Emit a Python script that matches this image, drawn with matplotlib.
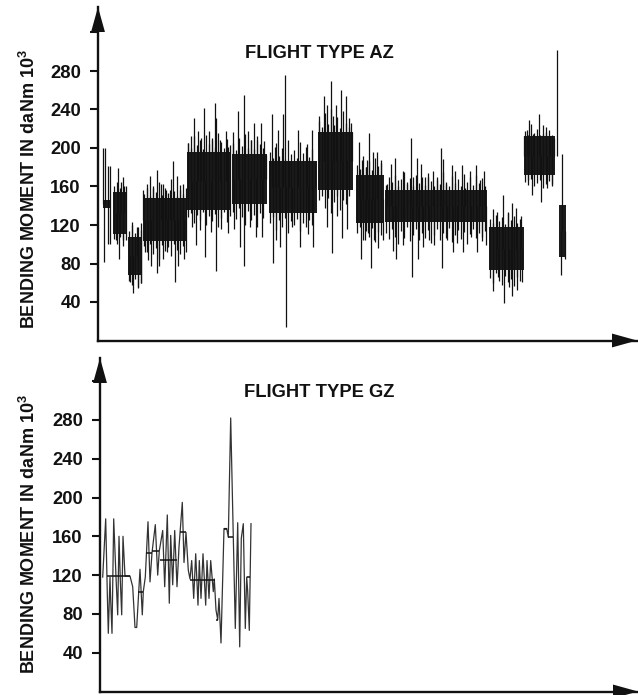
import numpy as np
import matplotlib
matplotlib.use('Agg')
import matplotlib.pyplot as plt

plt.rcParams['font.family'] = ['Liberation Sans', 'DejaVu Sans']
plt.rcParams['font.weight'] = 'bold'
plt.rcParams['mathtext.fontset'] = 'custom'
plt.rcParams['mathtext.bf'] = 'Liberation Sans:bold'

tick_vals = [40, 80, 120, 160, 200, 240, 280]
extra_tick = 320

# flight type AZ, blocks of steady load: start, end, low, high
az_start = [5, 15, 30, 45, 89, 134, 171, 220, 258, 287, 391, 426, 461]
az_end = [13, 29, 44, 89, 133, 169, 219, 255, 286, 389, 426, 457, 468]
az_low = [138, 111, 68, 103, 136, 142, 132, 156, 122, 123, 73, 172, 87]
az_high = [146, 154, 108, 148, 196, 194, 187, 217, 172, 156, 118, 212, 141]

# flight type AZ, peaks above the blocks
az_up_t = [5, 7, 10, 12, 20, 23, 26, 34, 39, 43, 45, 49, 52, 55, 59, 63, 65, 68, 72, 75, 79, 82, 85,
           90, 93, 96, 100, 103, 106, 111, 114, 117, 118, 122, 128, 130,
           135, 140, 146, 150, 153, 156, 159, 163, 166, 168,
           174, 177, 180, 185, 187, 191, 200, 209, 214, 217,
           221, 226, 229, 233, 235, 238, 243, 248, 251, 253, 254,
           261, 264, 268, 269, 271, 275, 279, 283,
           289, 293, 297, 300, 305, 309, 313, 315, 319, 323, 327, 330, 335, 339, 343, 345, 348,
           354, 357, 364, 367, 372, 378, 382, 386,
           395, 399, 405, 410, 414, 418, 423, 426,
           429, 431, 435, 441, 445, 448, 452, 456, 459, 464]
az_up_val = [200, 200, 181, 181, 179, 165, 160, 123, 118, 122, 156, 163, 171, 158, 177, 163, 163, 156, 156, 186, 171, 156, 163,
             205, 212, 231, 218, 210, 242, 218, 208, 247, 231, 208, 218, 201,
             217, 238, 255, 218, 208, 226, 208, 226, 207, 193,
             235, 201, 219, 235, 276, 187, 219, 204, 219, 187,
             233, 254, 245, 270, 233, 245, 260, 254, 231, 226, 217,
             206, 188, 180, 188, 216, 196, 196, 188,
             163, 183, 190, 167, 176, 165, 210, 170, 190, 183, 170, 170, 176, 167, 200, 189, 163,
             182, 176, 182, 158, 176, 182, 167, 176,
             137, 133, 151, 134, 143, 138, 129, 212,
             219, 229, 215, 235, 215, 222, 212, 210, 302, 194]

# flight type AZ, troughs below the blocks
az_down_t = [6, 10, 12, 18, 21, 25, 32, 35, 40, 43, 47, 50, 53, 59, 61, 65, 69, 77, 80, 86,
             94, 98, 102, 107, 113, 118, 123, 130, 136, 142, 146, 152, 158, 164,
             175, 178, 182, 188, 194, 202, 210, 215, 229, 234, 239, 244, 249,
             263, 267, 270, 273, 276, 280, 285, 295, 298, 305, 314, 320, 325, 331, 336,
             344, 349, 355, 359, 365, 373, 379, 384, 388,
             395, 400, 406, 411, 414, 419, 424, 430, 434, 443, 449, 454, 463, 467]
az_down_val = [82, 100, 100, 104, 85, 104, 61, 49, 55, 60, 92, 84, 77, 70, 77, 85, 92, 61, 77, 85,
               118, 99, 115, 87, 113, 72, 116, 112, 116, 97, 77, 118, 108, 108,
               81, 104, 97, 14, 118, 97, 111, 97, 118, 91, 129, 106, 116,
               85, 104, 112, 75, 104, 96, 104, 93, 85, 99, 66, 85, 97, 104, 99,
               75, 104, 92, 101, 92, 108, 92, 108, 99,
               51, 66, 39, 56, 46, 52, 61, 167, 151, 144, 158, 163, 68, 85]

# flight type AZ, the short swings that fringe each block
az_fine_t = [16, 19, 22, 25, 28,
             31, 34, 37, 40, 43,
             46, 49, 52, 55, 58, 61, 64, 67, 70, 73, 76, 79, 82, 85, 88,
             90, 93, 96, 99, 102, 105, 108, 111, 114, 117, 120, 123, 126, 129, 132,
             135, 138, 141, 144, 147, 150, 153, 156, 159, 162, 165,
             172, 175, 178, 181, 184, 187, 190, 193, 196, 199, 202, 205, 208, 211, 214,
             221, 224, 227, 230, 233, 236, 239, 242, 245, 248, 251,
             259, 262, 265, 268, 271, 274, 277, 280, 283,
             288, 291, 294, 297, 300, 303, 306, 309, 312, 315, 318, 321, 324, 327, 330, 333, 336,
             339, 342, 345, 348, 351, 354, 357, 360, 363, 366, 369, 372, 375, 378, 381, 384, 387,
             392, 395, 398, 401, 404, 407, 410, 413, 416, 419, 422,
             427, 430, 433, 436, 439, 442, 445, 448, 451, 454]
az_fine_top = [160, 165, 158, 170, 160,
               114, 120, 112, 118, 115,
               152, 158, 150, 160, 154, 165, 151, 158, 153, 168, 155, 150, 162, 152, 158,
               205, 200, 212, 203, 208, 199, 214, 204, 210, 201, 216, 206, 200, 209, 203,
               205, 198, 210, 202, 215, 200, 208, 199, 212, 204, 200,
               196, 190, 205, 192, 200, 189, 208, 194, 198, 190, 206, 195, 201, 191, 199,
               228, 222, 236, 225, 240, 224, 232, 221, 238, 226, 222,
               182, 178, 192, 180, 186, 177, 190, 181, 184,
               162, 170, 165, 172, 161, 168, 175, 163, 169, 160, 172, 164, 170, 162, 174, 166, 161,
               170, 163, 175, 165, 160, 171, 164, 168, 161, 173, 165, 170, 162, 172, 164, 169, 161,
               126, 122, 130, 124, 128, 121, 132, 125, 129, 122, 126,
               218, 214, 225, 216, 220, 213, 224, 217, 219, 214]
az_fine_bot = [105, 100, 108, 98, 104,
               62, 58, 64, 56, 60,
               98, 92, 100, 90, 96, 85, 99, 93, 97, 88, 100, 94, 90, 98, 92,
               128, 132, 122, 130, 125, 134, 120, 129, 124, 131, 118, 127, 133, 123, 129,
               133, 126, 138, 128, 120, 135, 125, 130, 118, 132, 127,
               122, 128, 115, 125, 118, 127, 112, 124, 120, 126, 114, 122, 118, 125, 120,
               146, 150, 138, 148, 132, 144, 150, 136, 146, 142, 150,
               112, 118, 104, 114, 108, 117, 102, 113, 110,
               112, 105, 116, 108, 100, 114, 106, 118, 103, 110, 116, 104, 112, 107, 115, 101, 110,
               116, 104, 112, 106, 117, 102, 110, 115, 105, 113, 100, 111, 116, 106, 112, 103, 114,
               65, 60, 70, 62, 58, 67, 61, 64, 57, 66, 62,
               165, 162, 168, 160, 164, 167, 158, 163, 166, 161]

# flight type GZ, trace
gz_t = [2.7, 5.7, 7.3, 8.3, 10, 10.7, 12, 13.7, 16, 17.7, 19, 20.3, 21.7, 23, 25, 30, 32.7, 35, 36.7,
        40, 42.3, 43.3, 45.3, 48, 50, 52, 55.3, 57.7, 59.3, 62.7, 64.7, 67.3, 69.3, 70.7, 72.7, 74.7,
        77, 79, 82.3, 84, 86, 88.3, 90, 91.7, 93.7, 95.7, 98, 99.3, 101, 103, 105.7, 107, 109, 110.7,
        113.3, 114.3, 116, 117.7, 119, 121, 124, 126.7, 128.3, 130.7, 133.3, 135.3, 137.7, 139.7,
        141.3, 143.3, 145.3, 146.7, 147.7, 149.3, 151]
gz_val = [118, 178, 101, 60, 118, 94, 60, 178, 118, 79, 160, 115, 79, 160, 119, 119, 108, 66, 66,
          126, 79, 103, 118, 175, 113, 143, 172, 120, 145, 166, 108, 182, 91, 161, 110, 166,
          108, 149, 195, 133, 164, 125, 116, 135, 96, 142, 89, 135, 96, 142, 89, 135, 96, 135,
          103, 116, 84, 74, 96, 50, 168, 168, 159, 282, 159, 65, 174, 46,
          158, 173, 65, 118, 103, 63, 173]

# flight type GZ, held levels
gz_level_start = [7, 38.3, 46, 52, 60, 80, 90, 116, 124, 128, 147]
gz_level_end = [30, 43.3, 52, 59, 77, 86, 115, 118, 127, 133, 150]
gz_level_val = [119, 103, 143, 145, 136, 164, 115, 74, 168, 159, 118]

FIG_W = 638
FIG_H = 695
INK = '#111111'


def make_axes(fig, left, zero_y, top_y, px_per_unit, label_y, right=637):
    ymax = (zero_y - top_y) / px_per_unit
    ax = fig.add_axes([left / FIG_W, 1 - zero_y / FIG_H, (right - left) / FIG_W, (zero_y - top_y) / FIG_H])
    ax.set_xlim(0, right - left)
    ax.set_ylim(0, ymax)
    for side in ['top', 'right']:
        ax.spines[side].set_visible(False)
    for side in ['left', 'bottom']:
        ax.spines[side].set_linewidth(1.7)
        ax.spines[side].set_color(INK)
    ax.set_xticks([])
    ax.set_yticks(tick_vals + [extra_tick])
    ax.set_yticklabels([str(v) for v in tick_vals] + [''])
    ax.tick_params(axis='y', length=6, width=1.5, color=INK, pad=6.4, labelsize=13.2, labelcolor=INK)
    ax.set_ylabel(r'BENDING MOMENT IN daNm 10$^{\mathbf{3}}$', fontsize=13, fontweight='bold', color=INK)
    ax.yaxis.set_label_coords(-(left - 39) / (right - left), (zero_y - label_y) / (zero_y - top_y))
    style = dict(arrowstyle='-|>,head_length=1.8,head_width=0.5', color=INK, lw=0, shrinkA=0, shrinkB=0, mutation_scale=10)
    ax.annotate('', xy=(1, 0), xytext=(0.9, 0), xycoords='axes fraction', textcoords='axes fraction', arrowprops=style)
    ax.annotate('', xy=(0, 1), xytext=(0, 0.9), xycoords='axes fraction', textcoords='axes fraction', arrowprops=style)
    return ax


def block_centre(t):
    i = np.searchsorted(az_start, t, side='right') - 1
    i = max(i, 0)
    return (az_low[i] + az_high[i]) / 2


fig = plt.figure(figsize=(FIG_W / 100, FIG_H / 100), dpi=100)

ax1 = make_axes(fig, 98, 340.5, 7, 0.9625, 189)
ax1.vlines(az_fine_t, az_fine_bot, az_fine_top, color=INK, lw=0.9)
for s, e, lo, hi in zip(az_start, az_end, az_low, az_high):
    ax1.fill_between([s, e], [lo, lo], [hi, hi], color='#1c1c1c', lw=0)
up_base = [block_centre(t) for t in az_up_t]
down_base = [block_centre(t) for t in az_down_t]
ax1.vlines(az_up_t, up_base, az_up_val, color=INK, lw=0.9)
ax1.vlines(az_down_t, az_down_val, down_base, color=INK, lw=0.9)
ax1.text(319 - 98, 298, 'FLIGHT TYPE AZ', ha='center', va='center', fontsize=13.2, fontweight='bold', color=INK)

ax2 = make_axes(fig, 100, 691.5, 358, 0.97, 534, right=638)
ax2.plot(gz_t, gz_val, color='#333333', lw=0.9)
ax2.hlines(gz_level_val, gz_level_start, gz_level_end, color=INK, lw=1.1)
ax2.text(319 - 100, 308, 'FLIGHT TYPE GZ', ha='center', va='center', fontsize=13.2, fontweight='bold', color=INK)

fig.savefig('out.png', dpi=100, facecolor='white')
